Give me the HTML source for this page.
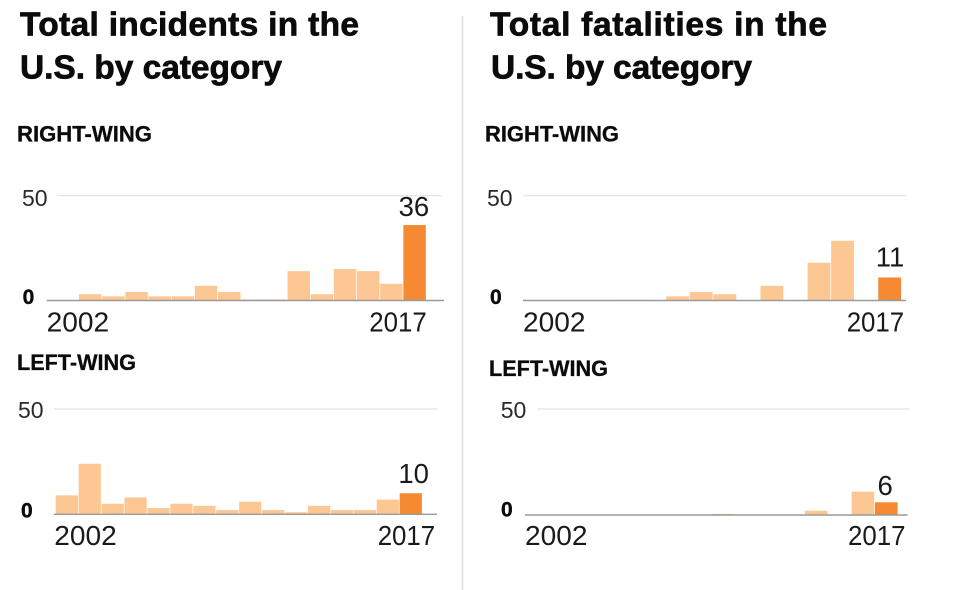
<!DOCTYPE html>
<html lang="en">
<head>
<meta charset="utf-8">
<title>Total incidents and fatalities in the U.S. by category</title>
<style>
  html, body { margin: 0; padding: 0; background: #fff; }
  body { width: 980px; height: 590px; overflow: hidden; }
  svg { display: block; font-family: "Liberation Sans", Arial, sans-serif; filter: blur(0.35px); }
  .title { font-size: 33.5px; font-weight: 700; fill: #0b0b0b; stroke: #0b0b0b; stroke-width: 0.7px; }
  .section { font-size: 22px; font-weight: 700; fill: #0b0b0b; stroke: #0b0b0b; stroke-width: 0.3px; }
  .tick { font-size: 23px; fill: #2a2a2a; }
  .zero { font-size: 21px; font-weight: 700; fill: #0b0b0b; stroke: #0b0b0b; stroke-width: 0.4px; }
  .year { font-size: 27.5px; fill: #1a1a1a; }
  .value { font-size: 27.5px; fill: #1a1a1a; }
</style>
</head>
<body>
<svg id="chart-root" width="980" height="590" viewBox="0 0 980 590" xmlns="http://www.w3.org/2000/svg">
  <line x1="462.5" y1="16" x2="462.5" y2="590" stroke="#dcdcdc" stroke-width="1.5"></line>

  <text class="title" x="20" y="35.7" textLength="339" lengthAdjust="spacing">Total incidents in the</text>
  <text class="title" x="20" y="78.3" textLength="262" lengthAdjust="spacing">U.S. by category</text>
  <text class="title" x="490" y="35.7" textLength="337" lengthAdjust="spacing">Total fatalities in the</text>
  <text class="title" x="491" y="78.3" textLength="261" lengthAdjust="spacing">U.S. by category</text>

  <text class="section" x="17" y="141.7" textLength="135" lengthAdjust="spacingAndGlyphs">RIGHT-WING</text>
  <text class="section" x="17" y="370" textLength="119" lengthAdjust="spacingAndGlyphs">LEFT-WING</text>
  <text class="section" x="485" y="141.7" textLength="134" lengthAdjust="spacingAndGlyphs">RIGHT-WING</text>
  <text class="section" x="489" y="376" textLength="119" lengthAdjust="spacingAndGlyphs">LEFT-WING</text>
</svg>

<script>
const years = [2002, 2003, 2004, 2005, 2006, 2007, 2008, 2009, 2010, 2011, 2012, 2013, 2014, 2015, 2016, 2017];
const yTicks = [0, 50];
const xTickYears = [2002, 2017];

const incidentsRightWing = [0, 3, 2, 4, 2, 2, 7, 4, 0.5, 0.5, 14, 3, 15, 14, 8, 36];
const incidentsLeftWing = [9, 24, 5, 8, 3, 5, 4, 2, 6, 2, 1, 4, 2, 2, 7, 10];
const fatalitiesRightWing = [0, 0, 0, 0, 0.3, 0, 2, 4, 3, 0, 7, 0, 18, 28.5, 0, 11];
const fatalitiesLeftWing = [0, 0, 0, 0, 0, 0, 0, 0, 0.5, 0, 0, 0, 2, 0, 11, 6];

const LIGHT_BAR = '#fdc794';
const DARK_BAR = '#f58a33';
const SVG_NS = 'http://www.w3.org/2000/svg';
const root = document.getElementById('chart-root');

function addEl(parent, tag, attrs, text) {
  const el = document.createElementNS(SVG_NS, tag);
  Object.keys(attrs).forEach(function (k) { el.setAttribute(k, attrs[k]); });
  if (text !== undefined) el.textContent = text;
  parent.appendChild(el);
  return el;
}

function drawChart(cfg) {
  const values = cfg.values;
  const yScale = function (v) { return cfg.base - (v / 50) * (cfg.base - cfg.top); };
  const xScale = function (i) { return cfg.barStart + i * cfg.pitch; };

  const group = addEl(root, 'g', {});
  
  

  yTicks.forEach(function (t) {
    if (t === 0) return;
    const grid = addEl(group, 'line', { x1: cfg.gridX1, x2: cfg.gridX2, y1: yScale(t), y2: yScale(t), stroke: '#e2e2e2', 'stroke-width': 1.2 });
    
    
  });

  values.forEach(function (v, i) {
    if (v <= 0) return;
    const isLast = i === values.length - 1;
    const bar = addEl(group, 'rect', {
      x: xScale(i),
      y: yScale(v),
      width: cfg.pitch - 0.7,
      height: cfg.base - yScale(v),
      fill: isLast ? DARK_BAR : LIGHT_BAR
    });
    
    
  });

  const axis = addEl(group, 'line', { x1: cfg.axisX1, x2: cfg.axisX2, y1: cfg.base, y2: cfg.base, stroke: '#9a9a9a', 'stroke-width': 1.4 });
  
  

  yTicks.forEach(function (t) {
    const label = t === 0
      ? addEl(group, 'text', { class: 'zero', x: cfg.zeroX, y: cfg.zeroY }, String(t))
      : addEl(group, 'text', { class: 'tick', x: cfg.tickX, y: yScale(t) + cfg.tickDy }, String(t));
    
    
  });

  xTickYears.forEach(function (yr, k) {
    const label = addEl(group, 'text', {
      class: 'year',
      x: cfg.yearX[k],
      y: cfg.yearY,
      textLength: k === 0 ? 62.5 : 57.5,
      lengthAdjust: 'spacingAndGlyphs'
    }, String(yr));
    
    
  });

  const lastIndex = values.length - 1;
  const lastValue = values[lastIndex];
  const valueLabel = addEl(group, 'text', {
    class: 'value',
    'text-anchor': 'middle',
    x: xScale(lastIndex) + cfg.pitch / 2 + cfg.valueDx,
    y: yScale(lastValue) - cfg.valueGap
  }, String(Math.round(lastValue)));
  
  
}

drawChart({
  name: 'incidents-right-wing-chart', values: incidentsRightWing,
  base: 300.5, top: 195.7, barStart: 55.8, pitch: 23.17,
  gridX1: 58, gridX2: 441.7, axisX1: 46.7, axisX2: 444,
  tickX: 22, tickDy: 10.3, zeroX: 22.6, zeroY: 304,
  yearX: [46.7, 369.3], yearY: 331.7, valueDx: -1, valueGap: 9
});
drawChart({
  name: 'incidents-left-wing-chart', values: incidentsLeftWing,
  base: 514.3, top: 409, barStart: 55.7, pitch: 22.93,
  gridX1: 54, gridX2: 437, axisX1: 54, axisX2: 437,
  tickX: 18, tickDy: 9, zeroX: 21, zeroY: 517.7,
  yearX: [54.3, 377.7], yearY: 545, valueDx: 2.5, valueGap: 10
});
drawChart({
  name: 'fatalities-right-wing-chart', values: fatalitiesRightWing,
  base: 300.5, top: 195.7, barStart: 525, pitch: 23.55,
  gridX1: 523, gridX2: 906, axisX1: 523, axisX2: 906,
  tickX: 487, tickDy: 10.3, zeroX: 490, zeroY: 304,
  yearX: [523, 846.7], yearY: 331.7, valueDx: 0, valueGap: 11
});
drawChart({
  name: 'fatalities-left-wing-chart', values: fatalitiesLeftWing,
  base: 515, top: 409, barStart: 525, pitch: 23.33,
  gridX1: 537.7, gridX2: 909, axisX1: 525, axisX2: 907.7,
  tickX: 500.7, tickDy: 9, zeroX: 501, zeroY: 516.5,
  yearX: [525, 848], yearY: 545, valueDx: -1.5, valueGap: 7.5
});
</script>
</body>
</html>
